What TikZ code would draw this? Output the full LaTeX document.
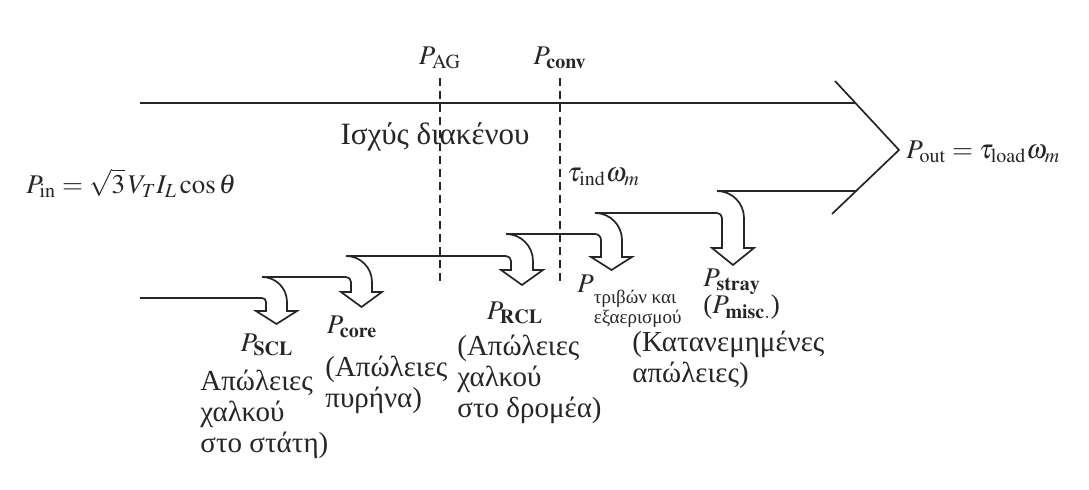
\documentclass[tikz,border=0pt]{standalone}
\usepackage{mathptmx}
\usepackage{fontspec}
\setmainfont{Liberation Serif}
\usetikzlibrary{positioning}
\definecolor{ink}{HTML}{262626}
\tikzset{
  flowline/.style={draw=ink, line width=0.85pt, line join=miter},
  gapline/.style={draw=ink, line width=0.7pt, dash pattern=on 4pt off 2.5pt},
  lbl/.style={font=\fontsize{13.5}{15.5}\selectfont, text=ink, inner sep=0pt},
  note/.style={lbl, font=\fontsize{14.5}{15.5}\selectfont, align=left}
}
% #1 corner x, #2 lower edge, #3 upper edge, #4 inner radius, #5 shaft end, #6 tip
\newcommand\lossarrow[6]{%
  \draw[flowline] (#1,#2) arc[start angle=90,end angle=0,radius=#4]
    -- ({#1+#4},#5) -- ({#1+#4-10},#5)
    -- ({#1+#4+(#3-#2)/2},#6)
    -- ({#1+#4+#3-#2+10},#5) -- ({#1+#4+#3-#2},#5)
    -- ({#1+#4+#3-#2},{#2-#4})
    arc[start angle=0,end angle=90,radius={#4+#3-#2}];
}
\begin{document}
\begin{tikzpicture}[x=0.5pt,y=0.5pt]
  \useasboundingbox[fill=white] (0,0) rectangle (1089,490);

  % power flow band
  \draw[flowline] (140,387) -- (855,387);
  \draw[flowline] (835,409) -- (899,340) -- (832,276);
  \draw[flowline] (140,192) -- (262,192);
  \draw[flowline] (262,213) -- (346,213);
  \draw[flowline] (346,234) -- (506,234);
  \draw[flowline] (506,256) -- (595,256);
  \draw[flowline] (595,277) -- (717,277);
  \draw[flowline] (717,299) -- (856,299);

  % losses
  \lossarrow{262}{192}{213}{4}{179}{166}
  \lossarrow{346}{213}{234}{5}{198}{183}
  \lossarrow{506}{234}{256}{5}{220}{205}
  \lossarrow{595}{256}{277}{6}{233}{220}
  \lossarrow{717}{277}{299}{5}{242}{225}

  % air gap and conversion
  \node[lbl] (pag) at (440,432) {$P_{\mathrm{AG}}$};
  \node[lbl] (pconv) at (560,432) {$P_{\mathbf{conv}}$};
  \coordinate (agend) at (440,208);
  \coordinate (convend) at (560,208);
  \draw[gapline, shorten <=4.5pt] (pag) -- (agend);
  \draw[gapline, shorten <=4.5pt] (pconv) -- (convend);

  \node[lbl, font=\fontsize{15.5}{16}\selectfont] (gaptxt) at (435,353) {Ισχύς διακένου};
  \node[lbl, anchor=west] (tind) at (567,313) {$\tau_{\mathrm{ind}}\omega_m$};
  \node[lbl, anchor=west] (pout) at (906,338) {$P_{\mathrm{out}} = \tau_{\mathrm{load}}\omega_m$};
  \node[lbl, anchor=west] (pin) at (26,307) {$P_{\mathrm{in}} = \sqrt{3}\,V_T I_L \cos\theta$};

  % loss labels
  \node[lbl] (pscl) at (267,145) {$P_{\mathbf{SCL}}$};
  \node[note, anchor=north west] (scltxt) at (200,120) {Απώλειες\\χαλκού\\στο στάτη)};
  \node[lbl] (pcore) at (352,163) {$P_{\mathbf{core}}$};
  \node[note, anchor=north west] (coretxt) at (325,134) {(Απώλειες\\πυρήνα)};
  \node[lbl] (prcl) at (515,177) {$P_{\mathbf{RCL}}$};
  \node[note, anchor=north west] (rcltxt) at (457,155) {(Απώλειες\\χαλκού\\στο δρομέα)};
  \node[lbl, anchor=base west] (pfw) at (577,197) {$P$\raisebox{-5.5pt}{\fontsize{9.5}{10}\selectfont
    \begin{tabular}[t]{@{}l@{}}τριβών και\\εξαερισμού\end{tabular}}};
  \node[lbl, align=left, anchor=north west] (pstray) at (703,221) {$P_{\mathbf{stray}}$\\[-2pt]($P_{\mathbf{misc.}}$)};
  \node[note, anchor=north west] (straytxt) at (632,159) {(Κατανεμημένες\\απώλειες)};
\end{tikzpicture}
\end{document}
